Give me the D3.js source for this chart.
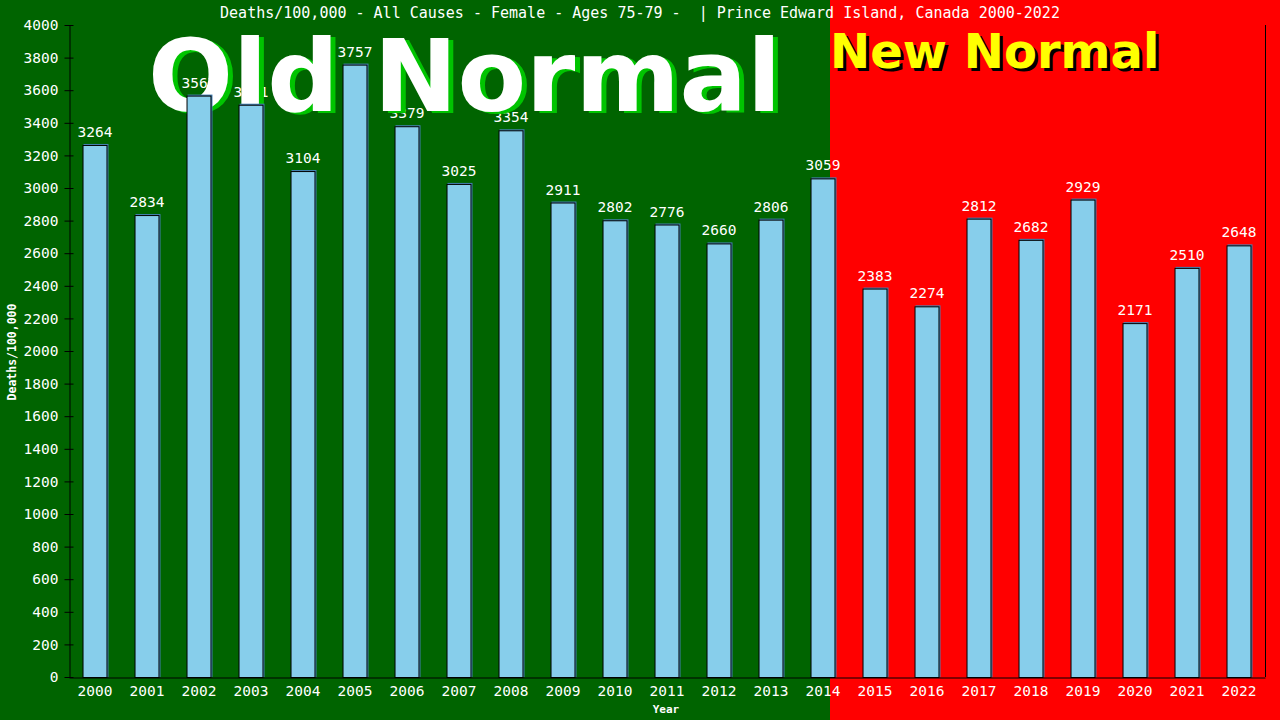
<!DOCTYPE html>
<html>
<head>
<meta charset="utf-8">
<script src="https://cdn.jsdelivr.net/npm/d3@7"></script>
<style>
  body { margin: 0; background: #006400; }
  svg { display: block; }
</style>
</head>
<body>
<div id="chart"></div>
<script>
const width = 1280;
const height = 720;

const years = ['2000', '2001', '2002', '2003', '2004', '2005', '2006', '2007', '2008', '2009', '2010', '2011',
    '2012', '2013', '2014', '2015', '2016', '2017', '2018', '2019', '2020', '2021', '2022'];
const deaths = [3264, 2834, 3567, 3511, 3104, 3757, 3379, 3025, 3354, 2911, 2802, 2776,
    2660, 2806, 3059, 2383, 2274, 2812, 2682, 2929, 2171, 2510, 2648];
const yTicks = [0, 200, 400, 600, 800, 1000, 1200, 1400, 1600, 1800, 2000, 2200, 2400,
    2600, 2800, 3000, 3200, 3400, 3600, 3800, 4000];

const titleText = 'Deaths/100,000 - All Causes - Female - Ages 75-79 -  | Prince Edward Island, Canada 2000-2022';
const mono = '"DejaVu Sans Mono", monospace';

const margin = { top: 25, right: 15, bottom: 43, left: 69 };

function createChart() {
    const svg = d3
        .select('#chart')
        .append('svg')
        .attr('width', width)
        .attr('height', height);

    const xScale = d3.scaleBand()
        .domain(years)
        .range([margin.left, width - margin.right])
        .paddingInner(0.52)
        .paddingOuter(0.26);

    const yScale = d3.scaleLinear()
        .domain([0, 4000])
        .range([height - margin.bottom, margin.top]);

    // backgrounds: old normal (green) and new normal (red)
    svg.append('rect')
        .attr('width', width).attr('height', height)
        .attr('fill', '#006400');
    svg.append('rect')
        .attr('x', 830).attr('y', 0)
        .attr('width', width - 830).attr('height', height)
        .attr('fill', '#ff0000');

    // title
    svg.append('text')
        .attr('x', 640).attr('y', 18)
        .attr('text-anchor', 'middle')
        .style('font-family', mono)
        .style('font-size', '15px')
        .attr('fill', 'white')
        .attr('xml:space', 'preserve')
        .text(titleText);

    // value labels (drawn under the big text, like the original)
    svg.append('g')
        .selectAll('text')
        .data(deaths)
        .join('text')
        .attr('x', (d, i) => xScale(years[i]) + xScale.bandwidth() / 2)
        .attr('y', (d) => yScale(d) - 8)
        .attr('text-anchor', 'middle')
        .style('font-family', mono)
        .style('font-size', '14.5px')
        .attr('fill', 'white')
        .text((d) => d);

    // "Old Normal" with green shadow
    const oldG = svg.append('g')
        .style('font-family', '"DejaVu Sans", sans-serif')
        .style('font-weight', 'bold')
        .style('font-size', '100px');
    oldG.append('text').attr('x', 153).attr('y', 113).attr('fill', '#00c400').text('Old Normal');
    oldG.append('text').attr('x', 148).attr('y', 111).attr('fill', 'white').text('Old Normal');

    // "New Normal" with black shadow
    const newG = svg.append('g')
        .style('font-family', '"DejaVu Sans", sans-serif')
        .style('font-weight', 'bold')
        .style('font-size', '48px');
    newG.append('text').attr('x', 833).attr('y', 71).attr('fill', 'black').text('New Normal');
    newG.append('text').attr('x', 830).attr('y', 68).attr('fill', '#ffff00').text('New Normal');

    // bars: steelblue edge behind, skyblue body with black outline
    const bars = svg.append('g').attr('class', 'bars');
    bars.selectAll('rect.edge')
        .data(deaths)
        .join('rect')
        .attr('class', 'edge')
        .attr('x', (d, i) => xScale(years[i]) + 1)
        .attr('y', (d) => yScale(d) - 1)
        .attr('width', xScale.bandwidth())
        .attr('height', (d) => yScale(0) - yScale(d) + 1)
        .attr('fill', '#4682b4');
    bars.selectAll('rect.bar')
        .data(deaths)
        .join('rect')
        .attr('class', 'bar')
        .attr('x', (d, i) => xScale(years[i]) + 0.5)
        .attr('y', (d) => yScale(d) + 0.5)
        .attr('width', xScale.bandwidth() - 1)
        .attr('height', (d) => yScale(0) - yScale(d))
        .attr('fill', '#87ceeb')
        .attr('stroke', 'black')
        .attr('stroke-width', 1);

    // y axis
    const yAxis = svg.append('g')
        .attr('transform', `translate(${margin.left + 0.5}, 0)`)
        .call(d3.axisLeft(yScale).tickValues(yTicks).tickFormat(d3.format('d')).tickSize(0).tickPadding(11));
    yAxis.select('.domain').attr('stroke', 'black');
    yAxis.selectAll('.tick text')
        .attr('fill', 'white')
        .style('font-family', mono)
        .style('font-size', '14.5px');
    yAxis.selectAll('.tick')
        .append('line')
        .attr('x1', -5).attr('x2', 4)
        .attr('stroke', 'black');

    // right border line
    svg.append('line')
        .attr('x1', width - margin.right + 0.5).attr('x2', width - margin.right + 0.5)
        .attr('y1', margin.top).attr('y2', height - margin.bottom)
        .attr('stroke', 'black');

    // x axis
    const xAxis = svg.append('g')
        .attr('transform', `translate(0, ${height - margin.bottom + 0.5})`)
        .call(d3.axisBottom(xScale).tickSize(0).tickPadding(8));
    xAxis.select('.domain').attr('stroke', 'black');
    xAxis.selectAll('.tick text')
        .attr('fill', 'white')
        .style('font-family', mono)
        .style('font-size', '14.5px');

    // axis titles
    svg.append('text')
        .attr('x', 666).attr('y', 713)
        .attr('text-anchor', 'middle')
        .style('font-family', mono)
        .style('font-size', '11px')
        .style('font-weight', 'bold')
        .attr('fill', 'white')
        .text('Year');

    svg.append('text')
        .attr('transform', 'translate(16, 352) rotate(-90)')
        .attr('text-anchor', 'middle')
        .style('font-family', mono)
        .style('font-size', '11.5px')
        .style('font-weight', 'bold')
        .attr('fill', 'white')
        .text('Deaths/100,000');
}

createChart();
</script>
</body>
</html>
